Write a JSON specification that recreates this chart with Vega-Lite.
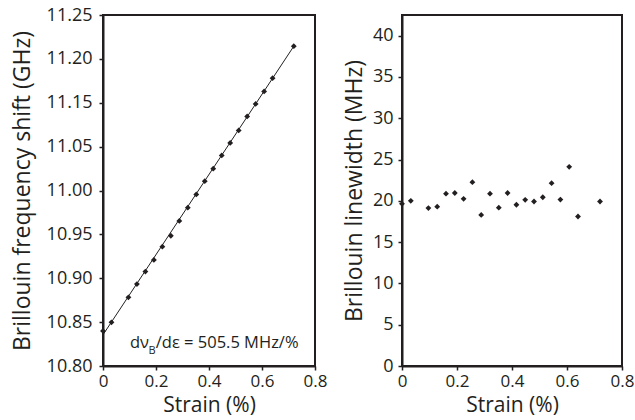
{
  "$schema": "https://vega.github.io/schema/vega-lite/v6.json",
  "background": "white",
  "padding": {"left": 10, "top": 5, "right": 0, "bottom": 4},
  "spacing": 14,
  "datasets": {
    "shift": [
      {"strain": 0, "shift": 10.845},
      {"strain": 0.032, "shift": 10.856},
      {"strain": 0.096, "shift": 10.888},
      {"strain": 0.128, "shift": 10.905},
      {"strain": 0.16, "shift": 10.921},
      {"strain": 0.192, "shift": 10.936},
      {"strain": 0.224, "shift": 10.953},
      {"strain": 0.256, "shift": 10.967},
      {"strain": 0.288, "shift": 10.986},
      {"strain": 0.32, "shift": 11.003},
      {"strain": 0.352, "shift": 11.02},
      {"strain": 0.384, "shift": 11.037},
      {"strain": 0.416, "shift": 11.053},
      {"strain": 0.448, "shift": 11.07},
      {"strain": 0.48, "shift": 11.086},
      {"strain": 0.512, "shift": 11.102},
      {"strain": 0.544, "shift": 11.12},
      {"strain": 0.576, "shift": 11.136},
      {"strain": 0.608, "shift": 11.152},
      {"strain": 0.64, "shift": 11.169},
      {"strain": 0.72, "shift": 11.21}
    ],
    "fit": [
      {"strain": 0, "shift": 10.84},
      {"strain": 0.72, "shift": 11.21}
    ],
    "linewidth": [
      {"strain": 0, "linewidth": 19.64},
      {"strain": 0.032, "linewidth": 20.0},
      {"strain": 0.096, "linewidth": 19.12},
      {"strain": 0.128, "linewidth": 19.29},
      {"strain": 0.16, "linewidth": 20.87},
      {"strain": 0.192, "linewidth": 20.95},
      {"strain": 0.224, "linewidth": 20.24},
      {"strain": 0.256, "linewidth": 22.26},
      {"strain": 0.288, "linewidth": 18.29},
      {"strain": 0.32, "linewidth": 20.87},
      {"strain": 0.352, "linewidth": 19.17},
      {"strain": 0.384, "linewidth": 20.95},
      {"strain": 0.416, "linewidth": 19.52},
      {"strain": 0.448, "linewidth": 20.12},
      {"strain": 0.48, "linewidth": 19.92},
      {"strain": 0.512, "linewidth": 20.43},
      {"strain": 0.544, "linewidth": 22.14},
      {"strain": 0.576, "linewidth": 20.15},
      {"strain": 0.608, "linewidth": 24.12},
      {"strain": 0.64, "linewidth": 18.1},
      {"strain": 0.72, "linewidth": 19.92}
    ]
  },
  "hconcat": [
    {
      "width": 212,
      "height": 351,
      "layer": [
        {
          "data": {"name": "fit"},
          "mark": {"type": "line", "color": "#231f20", "strokeWidth": 1},
          "encoding": {
            "x": {"field": "strain", "type": "quantitative",
              "scale": {"domain": [0, 0.8], "nice": false, "zero": false},
              "axis": {"title": "Strain (%)", "values": [0, 0.2, 0.4, 0.6, 0.8], "format": ".1~f"}},
            "y": {"field": "shift", "type": "quantitative",
              "scale": {"domain": [10.8, 11.25], "nice": false, "zero": false},
              "axis": {"title": "Brillouin frequency shift (GHz)", "titleFontSize": 23, "titlePadding": 12, "labelPadding": 7,
                "values": [10.8, 10.85625, 10.9125, 10.96875, 11.025, 11.08125, 11.1375, 11.19375, 11.25],
                "labelExpr": "['10.80','10.85','10.90','10.95','11.00','11.05','11.15','11.20','11.25'][round((datum.value - 10.8) / 0.05625)]"}}
          }
        },
        {
          "data": {"name": "shift"},
          "mark": {"type": "point", "shape": "diamond", "filled": true, "size": 34, "color": "#231f20", "opacity": 1},
          "encoding": {
            "x": {"field": "strain", "type": "quantitative"},
            "y": {"field": "shift", "type": "quantitative"}
          }
        },
        {
          "data": {"values": [{}]},
          "mark": {"type": "text", "text": "dν", "align": "left", "baseline": "alphabetic", "font": "Open Sans", "fontSize": 16.5, "color": "#231f20"},
          "encoding": {
            "x": {"datum": 0.102, "type": "quantitative"},
            "y": {"datum": 10.823, "type": "quantitative"}
          }
        },
        {
          "data": {"values": [{}]},
          "mark": {"type": "text", "text": "B", "align": "left", "baseline": "alphabetic", "font": "Open Sans", "fontSize": 11, "color": "#231f20"},
          "encoding": {
            "x": {"datum": 0.172, "type": "quantitative"},
            "y": {"datum": 10.8155, "type": "quantitative"}
          }
        },
        {
          "data": {"values": [{}]},
          "mark": {"type": "text", "text": "/dε = 505.5 MHz/%", "align": "left", "baseline": "alphabetic", "font": "Open Sans", "fontSize": 16.5, "color": "#231f20"},
          "encoding": {
            "x": {"datum": 0.199, "type": "quantitative"},
            "y": {"datum": 10.823, "type": "quantitative"}
          }
        }
      ]
    },
    {
      "width": 220,
      "height": 351,
      "data": {"name": "linewidth"},
      "mark": {"type": "point", "shape": "diamond", "filled": true, "size": 34, "color": "#231f20", "opacity": 1},
      "encoding": {
        "x": {"field": "strain", "type": "quantitative",
          "scale": {"domain": [0, 0.8], "nice": false, "zero": false},
          "axis": {"title": "Strain (%)", "values": [0, 0.2, 0.4, 0.6, 0.8], "format": ".1~f"}},
        "y": {"field": "linewidth", "type": "quantitative",
          "scale": {"domain": [0, 42.5], "nice": false},
          "axis": {"title": "Brillouin linewidth (MHz)", "titleFontSize": 23, "titlePadding": 6, "labelPadding": 5,
            "values": [0, 5, 10, 15, 20, 25, 30, 35, 40]}}
      }
    }
  ],
  "config": {
    "font": "Open Sans",
    "view": {"stroke": "#231f20", "strokeWidth": 2},
    "axis": {
      "grid": false,
      "labelFont": "Open Sans",
      "titleFont": "Open Sans",
      "labelFontSize": 18,
      "titleFontSize": 21,
      "titleFontWeight": "normal",
      "labelColor": "#231f20",
      "titleColor": "#231f20",
      "domainColor": "#231f20",
      "domainWidth": 2,
      "tickColor": "#231f20",
      "tickWidth": 1.5,
      "tickSize": 4,
      "labelOverlap": false,
      "labelFlush": false
    },
    "axisX": {"labelPadding": 3, "titlePadding": 5, "labelFontSize": 17}
  }
}
